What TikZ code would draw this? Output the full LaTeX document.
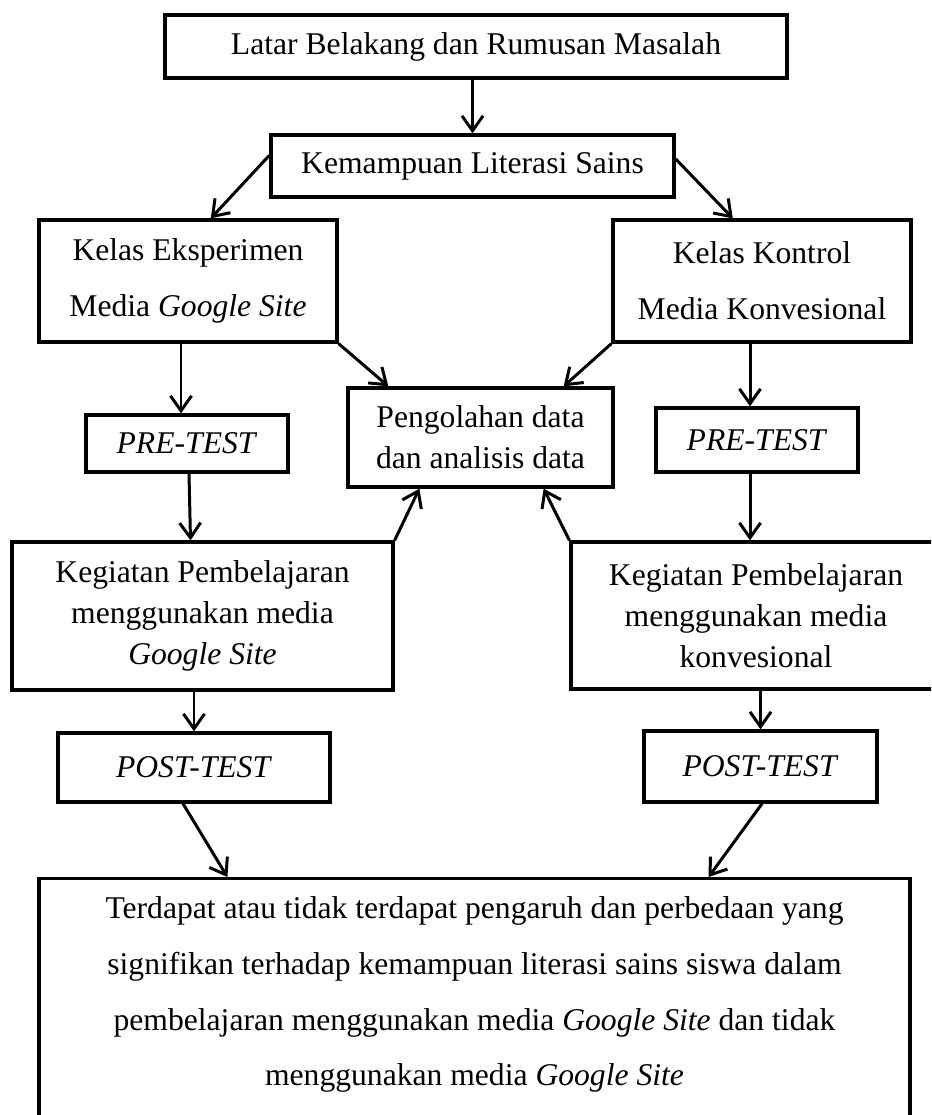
\documentclass[tikz,border=0pt]{standalone}
\usepackage{fontspec}
\setmainfont{Liberation Serif}
\usetikzlibrary{arrows.meta,positioning}

\begin{document}
\begin{tikzpicture}[
    x=0.02cm, y=-0.02cm,
    every node/.style={font=\fontsize{18}{23.5}\selectfont},
    box/.style={
        rectangle, draw, line width=1.9pt,
        align=center, inner sep=2pt
    },
    widebox/.style={
        box, font=\fontsize{18}{31.7}\selectfont
    },
    arr/.style={-{Straight Barb[length=8.5pt,width=12pt]}, line width=1.7pt}
]
\clip (0,0) rectangle (931,1115);

% --- top ---
\node[box, minimum width=12.44cm, minimum height=1.26cm] (latar) at (476,46.5) {Latar Belakang dan Rumusan Masalah};
\node[box, minimum width=8.06cm, minimum height=1.24cm] (literasi) at (472.5,166) {Kemampuan Literasi Sains};

% --- kelas ---
\node[widebox, minimum width=5.96cm, minimum height=2.44cm] (eksp) at (188,281) {Kelas Eksperimen\\Media \textit{Google Site}};
\node[widebox, minimum width=5.96cm, minimum height=2.44cm] (kontrol) at (762,281) {Kelas Kontrol\\Media Konvesional};

% --- pengolahan data ---
\node[box, minimum width=5.3cm, minimum height=1.98cm] (olah) at (480.5,437.5) {Pengolahan data\\dan analisis data};

% --- pre-test ---
\node[box, minimum width=4.04cm, minimum height=1.14cm] (preL) at (187,443.5) {\textit{PRE-TEST}};
\node[box, minimum width=4.04cm, minimum height=1.28cm] (preR) at (757,440) {\textit{PRE-TEST}};

% --- kegiatan ---
\node[box, minimum width=7.62cm, minimum height=2.96cm] (kegL) at (202.5,616) {Kegiatan Pembelajaran\\menggunakan media\\\textit{Google Site}};
\node[box, minimum width=7.4cm, minimum height=2.94cm] (kegR) at (756,615.5) {Kegiatan Pembelajaran\\menggunakan media\\konvesional};

% --- post-test ---
\node[box, minimum width=5.44cm, minimum height=1.38cm] (postL) at (194,767.5) {\textit{POST-TEST}};
\node[box, minimum width=4.66cm, minimum height=1.42cm] (postR) at (760.5,766.5) {\textit{POST-TEST}};

% --- hasil ---
\node[widebox, anchor=north, minimum width=17.42cm, inner ysep=10.4pt, text depth=4cm] (hasil) at (474.5,877) {Terdapat atau tidak terdapat pengaruh dan perbedaan yang\\signifikan terhadap kemampuan literasi sains siswa dalam\\pembelajaran menggunakan media \textit{Google Site} dan tidak\\menggunakan media \textit{Google Site}};

% --- arrows ---
\draw[arr] (literasi.north |- latar.south) -- (literasi.north);
\draw[arr] (literasi.177) -- (eksp.70);
\draw[arr] (literasi.2) -- (kontrol.115);

% eksperimen
\draw[arr] ([shift={(-7,0)}]eksp.south) -- ([shift={(-6,0)}]preL.north);
\draw[arr] ([shift={(2,0)}]preL.south) -- ([shift={(-12,0)}]kegL.north);
\draw[arr] (postL.north |- kegL.south) -- (postL.north);
\draw[arr] ([shift={(-11,0)}]postL.south) -- ([shift={(190,0)}]hasil.north west);

% kontrol
\draw[arr] ([shift={(-12,-4)}]kontrol.south) -- ([shift={(-7,0)}]preR.north);
\draw[arr] ([shift={(-7,0)}]preR.south) -- ([shift={(-6,0)}]kegR.north);
\draw[arr] (postR.north |- kegR.south) -- (postR.north);
\draw[arr] ([shift={(1.5,0)}]postR.south) -- ([shift={(-203,0)}]hasil.north east);

% ke pengolahan data
\draw[arr] (eksp.south east) -- ([shift={(42,0)}]olah.north west);
\draw[arr] (kontrol.south west) -- ([shift={(-51,0)}]olah.north east);
\draw[arr] (kegL.north east) -- ([shift={(73,0)}]olah.south west);
\draw[arr] (kegR.north west) -- ([shift={(-71,0)}]olah.south east);

\end{tikzpicture}
\end{document}
